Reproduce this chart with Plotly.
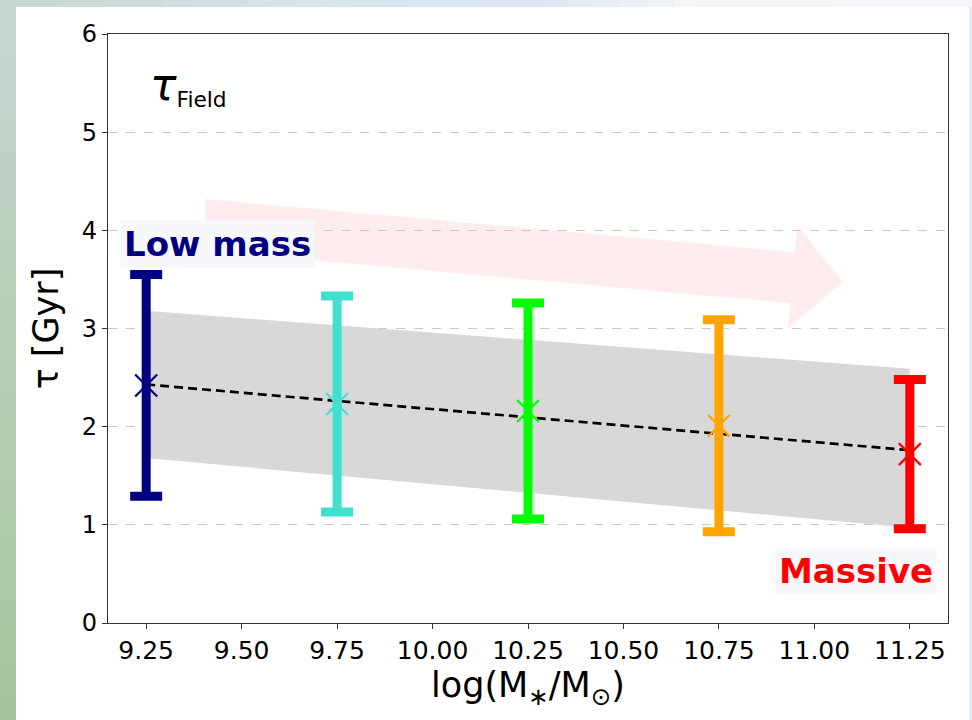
import plotly.graph_objects as go

# ---- data ----
mass_bins = [9.25, 9.75, 10.25, 10.75, 11.25]
tau_values = [2.42, 2.23, 2.16, 2.01, 1.72]
tau_err = [1.13, 1.10, 1.10, 1.08, 0.76]
bin_colors = ["#000080", "#40E0D0", "#00FF00", "#FFA500", "#FF0000"]

fit_x = [9.25, 11.25]
fit_y = [2.43, 1.76]
band_upper = [3.18, 2.59]
band_lower = [1.68, 0.97]

x_ticks = [9.25, 9.50, 9.75, 10.00, 10.25, 10.50, 10.75, 11.00, 11.25]
x_tick_labels = ["9.25", "9.50", "9.75", "10.00", "10.25", "10.50", "10.75", "11.00", "11.25"]
y_ticks = [0, 1, 2, 3, 4, 5, 6]

# decorative arrow outline (data coordinates)
arrow_x = [9.404, 10.949, 10.955, 11.075, 10.931, 10.936, 9.404]
arrow_y = [4.318, 3.778, 4.043, 3.473, 3.004, 3.259, 3.793]

FONT = "DejaVu Sans"

fig = go.Figure()

# decorative arrow
path = "M " + " L ".join(f"{x},{y}" for x, y in zip(arrow_x, arrow_y)) + " Z"
fig.add_shape(type="path", path=path, xref="x", yref="y",
              fillcolor="rgba(255,0,0,0.075)", line=dict(width=0), layer="below")

# grey band
fig.add_trace(go.Scatter(x=fit_x, y=band_lower, mode="lines", line=dict(width=0),
                         showlegend=False, hoverinfo="skip"))
fig.add_trace(go.Scatter(x=fit_x, y=band_upper, mode="lines", line=dict(width=0),
                         fill="tonexty", fillcolor="#d8d8d8",
                         showlegend=False, hoverinfo="skip"))

# fit line
fig.add_trace(go.Scatter(x=fit_x, y=fit_y, mode="lines",
                         line=dict(color="black", width=2.7, dash="9px,5px"),
                         showlegend=False, hoverinfo="skip"))

# points with error bars
for xv, yv, ev, c in zip(mass_bins, tau_values, tau_err, bin_colors):
    fig.add_trace(go.Scatter(
        x=[xv], y=[yv], mode="markers",
        marker=dict(symbol="x-thin", size=22, color=c, line=dict(color=c, width=2.2)),
        error_y=dict(type="data", array=[ev], visible=True, color=c,
                     thickness=9, width=16),
        showlegend=False))

# slide background edges (paper coords)
L, W, T, H = 108, 840, 34, 589
def px(xp):
    return (xp - L) / W
def py(yp):
    return (T + H - yp) / H

def lerp(c0, c1, t):
    return "#%02x%02x%02x" % tuple(int(round(a + (b - a) * t)) for a, b in zip(c0, c1))

# left strip: bluish grey at top to green at bottom
n = 24
top_c, bot_c = (200, 214, 212), (166, 197, 155)
for i in range(n):
    y0p, y1p = 720 * i / n, 720 * (i + 1) / n
    fig.add_shape(type="rect", xref="paper", yref="paper", x0=px(0), x1=px(16),
                  y0=py(y1p), y1=py(y0p), fillcolor=lerp(top_c, bot_c, (i + 0.5) / n),
                  line=dict(width=0), layer="below")
# top strip: greenish -> light blue -> near white
stops = [(0, (196, 214, 206)), (300, (214, 228, 236)), (560, (222, 232, 242)), (700, (246, 247, 249)), (972, (244, 246, 249))]
m = 36
for i in range(m):
    xa, xb = 972 * i / m, 972 * (i + 1) / m
    xc = (xa + xb) / 2
    for (s0, c0), (s1, c1) in zip(stops[:-1], stops[1:]):
        if s0 <= xc <= s1:
            col = lerp(c0, c1, (xc - s0) / (s1 - s0))
            break
    fig.add_shape(type="rect", xref="paper", yref="paper", x0=px(xa), x1=px(xb + 0.5),
                  y0=py(7), y1=py(0), fillcolor=col, line=dict(width=0), layer="below")
fig.add_shape(type="rect", xref="paper", yref="paper", x0=px(969), x1=px(972), y0=py(720), y1=py(7),
              fillcolor="#e6edf5", line=dict(width=0), layer="below")

# annotations
fig.add_annotation(x=px(148), y=py(86), xref="paper", yref="paper", xanchor="left", yanchor="middle",
                   text="<i><span style='font-size:44px'>τ</span></i><sub>Field</sub>",
                   showarrow=False, font=dict(family=FONT, size=31, color="black"))
fig.add_annotation(x=px(120), y=py(244), xref="paper", yref="paper", xanchor="left", yanchor="middle",
                   text="<b>Low mass</b>", showarrow=False, bgcolor="#f7f8fb",
                   borderpad=3, font=dict(family=FONT, size=34, color="#000080"))
fig.add_annotation(x=px(937), y=py(571), xref="paper", yref="paper", xanchor="right", yanchor="middle",
                   text="<b>Massive</b>", showarrow=False, bgcolor="#f7f8fb",
                   borderpad=3, font=dict(family=FONT, size=34, color="#FF0000"))

axis_common = dict(showline=True, linecolor="#333333", linewidth=1.3, mirror=True,
                   ticks="outside", ticklen=5, tickcolor="#333333", zeroline=False)

fig.update_xaxes(range=[9.15, 11.35], tickvals=x_ticks, ticktext=x_tick_labels,
                 showgrid=False, tickfont=dict(family=FONT, size=25, color="black"),
                 title=dict(text="log(M<sub>∗</sub>/M<sub>⊙</sub>)",
                            font=dict(family=FONT, size=35, color="black"), standoff=6),
                 **axis_common)
fig.update_yaxes(range=[0, 6], tickvals=y_ticks, showgrid=True, gridcolor="#c8c8c8",
                 griddash="dash", gridwidth=1, tickfont=dict(family=FONT, size=24, color="black"),
                 title=dict(text="τ [Gyr]", font=dict(family=FONT, size=35, color="black"), standoff=12),
                 **axis_common)

fig.update_layout(width=972, height=720,
                  margin=dict(l=L, r=972 - L - W, t=T, b=720 - T - H),
                  paper_bgcolor="white", plot_bgcolor="white",
                  font=dict(family=FONT))

fig.write_html("out.html")
